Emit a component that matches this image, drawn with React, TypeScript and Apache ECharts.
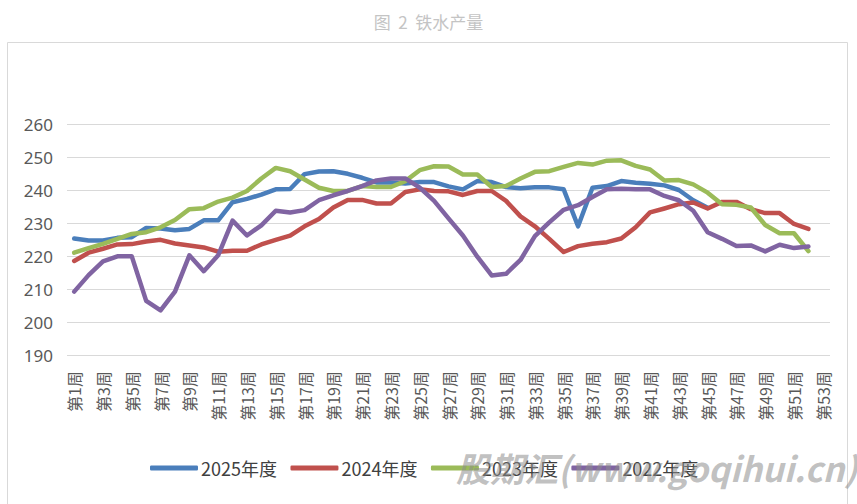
import React, { useEffect, useRef } from "react";
import * as echarts from "echarts";

const weeks: string[] = Array.from({ length: 53 }, (_, i) => `第${i + 1}周`);

const y2025: number[] = [
  225.3, 224.7, 224.7, 225.5, 225.7, 228.5, 228.3, 227.8, 228.2, 230.8,
  230.8, 236.3, 237.3, 238.6, 240.2, 240.3, 244.8, 245.6, 245.7, 244.9,
  243.7, 242.3, 242.3, 242.0, 242.4, 242.4, 241.1, 240.2, 242.7, 242.4,
  240.9, 240.5, 240.8, 240.8, 240.2, 229.0, 240.7, 241.2, 242.7, 242.2,
  241.9, 241.4, 240.0, 236.9, 234.6,
];
const y2024: number[] = [
  218.5, 221, 222.2, 223.5, 223.6, 224.4, 224.9, 223.8, 223.2, 222.6,
  221.3, 221.6, 221.6, 223.5, 224.9, 226.2, 229, 231.2, 234.7, 237,
  237, 235.9, 235.9, 239.4, 240.2, 239.7, 239.6, 238.5, 239.7, 239.7,
  236.7, 232, 229, 225.2, 221.2, 223, 223.7, 224.2, 225.3, 228.7,
  233.2, 234.4, 235.7, 236.2, 234.4, 236.4, 236.4, 234.2, 233, 233,
  229.7, 228.2,
];
const y2023: number[] = [
  221, 222.4, 223.7, 225.2, 226.7, 227.2, 228.7, 230.9, 234.2, 234.5,
  236.5, 237.7, 239.7, 243.5, 246.7, 245.7, 243.2, 240.7, 239.7, 239.7,
  241.2, 240.9, 240.9, 242.7, 246, 247.2, 247.1, 244.7, 244.7, 240.9,
  241.2, 243.5, 245.5, 245.7, 247, 248.2, 247.7, 248.9, 249, 247.3,
  246.2, 242.9, 243, 241.7, 239.2, 235.7, 235.5, 234.7, 229.4, 226.9,
  226.9, 221.5,
];
const y2022: number[] = [
  209.2, 214.2, 218.4, 219.9, 219.9, 206.4, 203.5, 209.2, 220.2, 215.4,
  220.2, 230.7, 226.2, 229.3, 233.7, 233.2, 233.9, 236.9, 238.4, 239.7,
  241.2, 242.9, 243.5, 243.5, 240.7, 236.7, 231.4, 226.2, 219.8, 214.1,
  214.6, 218.8, 226, 230.2, 234, 235.4, 237.9, 240.2, 240.4, 240.2,
  240.2, 238.2, 236.9, 233.7, 227.2, 225.2, 223, 223.2, 221.4, 223.4,
  222.4, 222.9,
];

const seriesNames = ["2025年度", "2024年度", "2023年度", "2022年度"];
const seriesColors = ["#4a7ebb", "#c0504d", "#9bbb59", "#8064a2"];
const seriesData = [y2025, y2024, y2023, y2022];

export default function App() {
  const ref = useRef<HTMLDivElement>(null);
  useEffect(() => {
    if (!ref.current) return;
    const chart = echarts.init(ref.current, null, { renderer: "svg" });
    chart.setOption({
      animation: false,
      backgroundColor: "#ffffff",
      title: {
        text: "图  2  铁水产量",
        left: "center",
        top: 8,
        textStyle: {
          color: "#c4c4c4",
          fontSize: 17,
          fontWeight: "normal",
          fontFamily: "Noto Sans CJK SC",
        },
      },
      graphic: [
        {
          type: "rect",
          shape: { x: 7.5, y: 42.5, width: 840, height: 470 },
          style: { fill: "none", stroke: "#d9d9d9", lineWidth: 1 },
          silent: true,
          z: -1,
        },
        {
          type: "text",
          left: 456,
          top: 450,
          style: {
            text: "股期汇(www.goqihui.cn)",
            fill: "rgba(140,140,140,0.55)",
            font: "italic bold 34px 'Noto Sans CJK SC', sans-serif",
          },
          silent: true,
          z: 100,
        },
      ],
      legend: {
        data: seriesNames.map((n) => ({ name: n, icon: "roundRect" })),
        left: 150,
        top: 459,
        padding: 0,
        itemWidth: 48,
        itemHeight: 5,
        itemGap: 13.5,
        textStyle: {
          color: "#404040",
          fontSize: 18,
          fontFamily: "Noto Sans CJK SC",
          padding: [0, 0, 0, -2],
        },
      },
      grid: { left: 67, right: 27, top: 124, bottom: 149, containLabel: false },
      xAxis: {
        type: "category",
        data: weeks,
        boundaryGap: true,
        axisLine: { show: false },
        axisTick: { show: false },
        axisLabel: {
          interval: 1,
          rotate: 90,
          margin: 16,
          color: "#595959",
          fontSize: 16,
          fontFamily: "Noto Sans CJK SC",
        },
      },
      yAxis: {
        type: "value",
        min: 190,
        max: 260,
        interval: 10,
        axisLine: { show: false },
        axisTick: { show: false },
        splitLine: { lineStyle: { color: "#d9d9d9", width: 1 } },
        axisLabel: {
          color: "#595959",
          fontSize: 17,
          margin: 14,
          fontFamily: "Noto Sans",
        },
      },
      series: seriesNames.map((name, i) => ({
        name,
        type: "line",
        data: seriesData[i],
        symbol: "none",
        smooth: false,
        lineStyle: { color: seriesColors[i], width: 4.5, cap: "round", join: "round" },
        itemStyle: { color: seriesColors[i] },
      })),
    });
    return () => chart.dispose();
  }, []);
  return (
    <div
      ref={ref}
      style={{ position: "fixed", left: 0, top: 0, width: 857, height: 504 }}
    />
  );
}
